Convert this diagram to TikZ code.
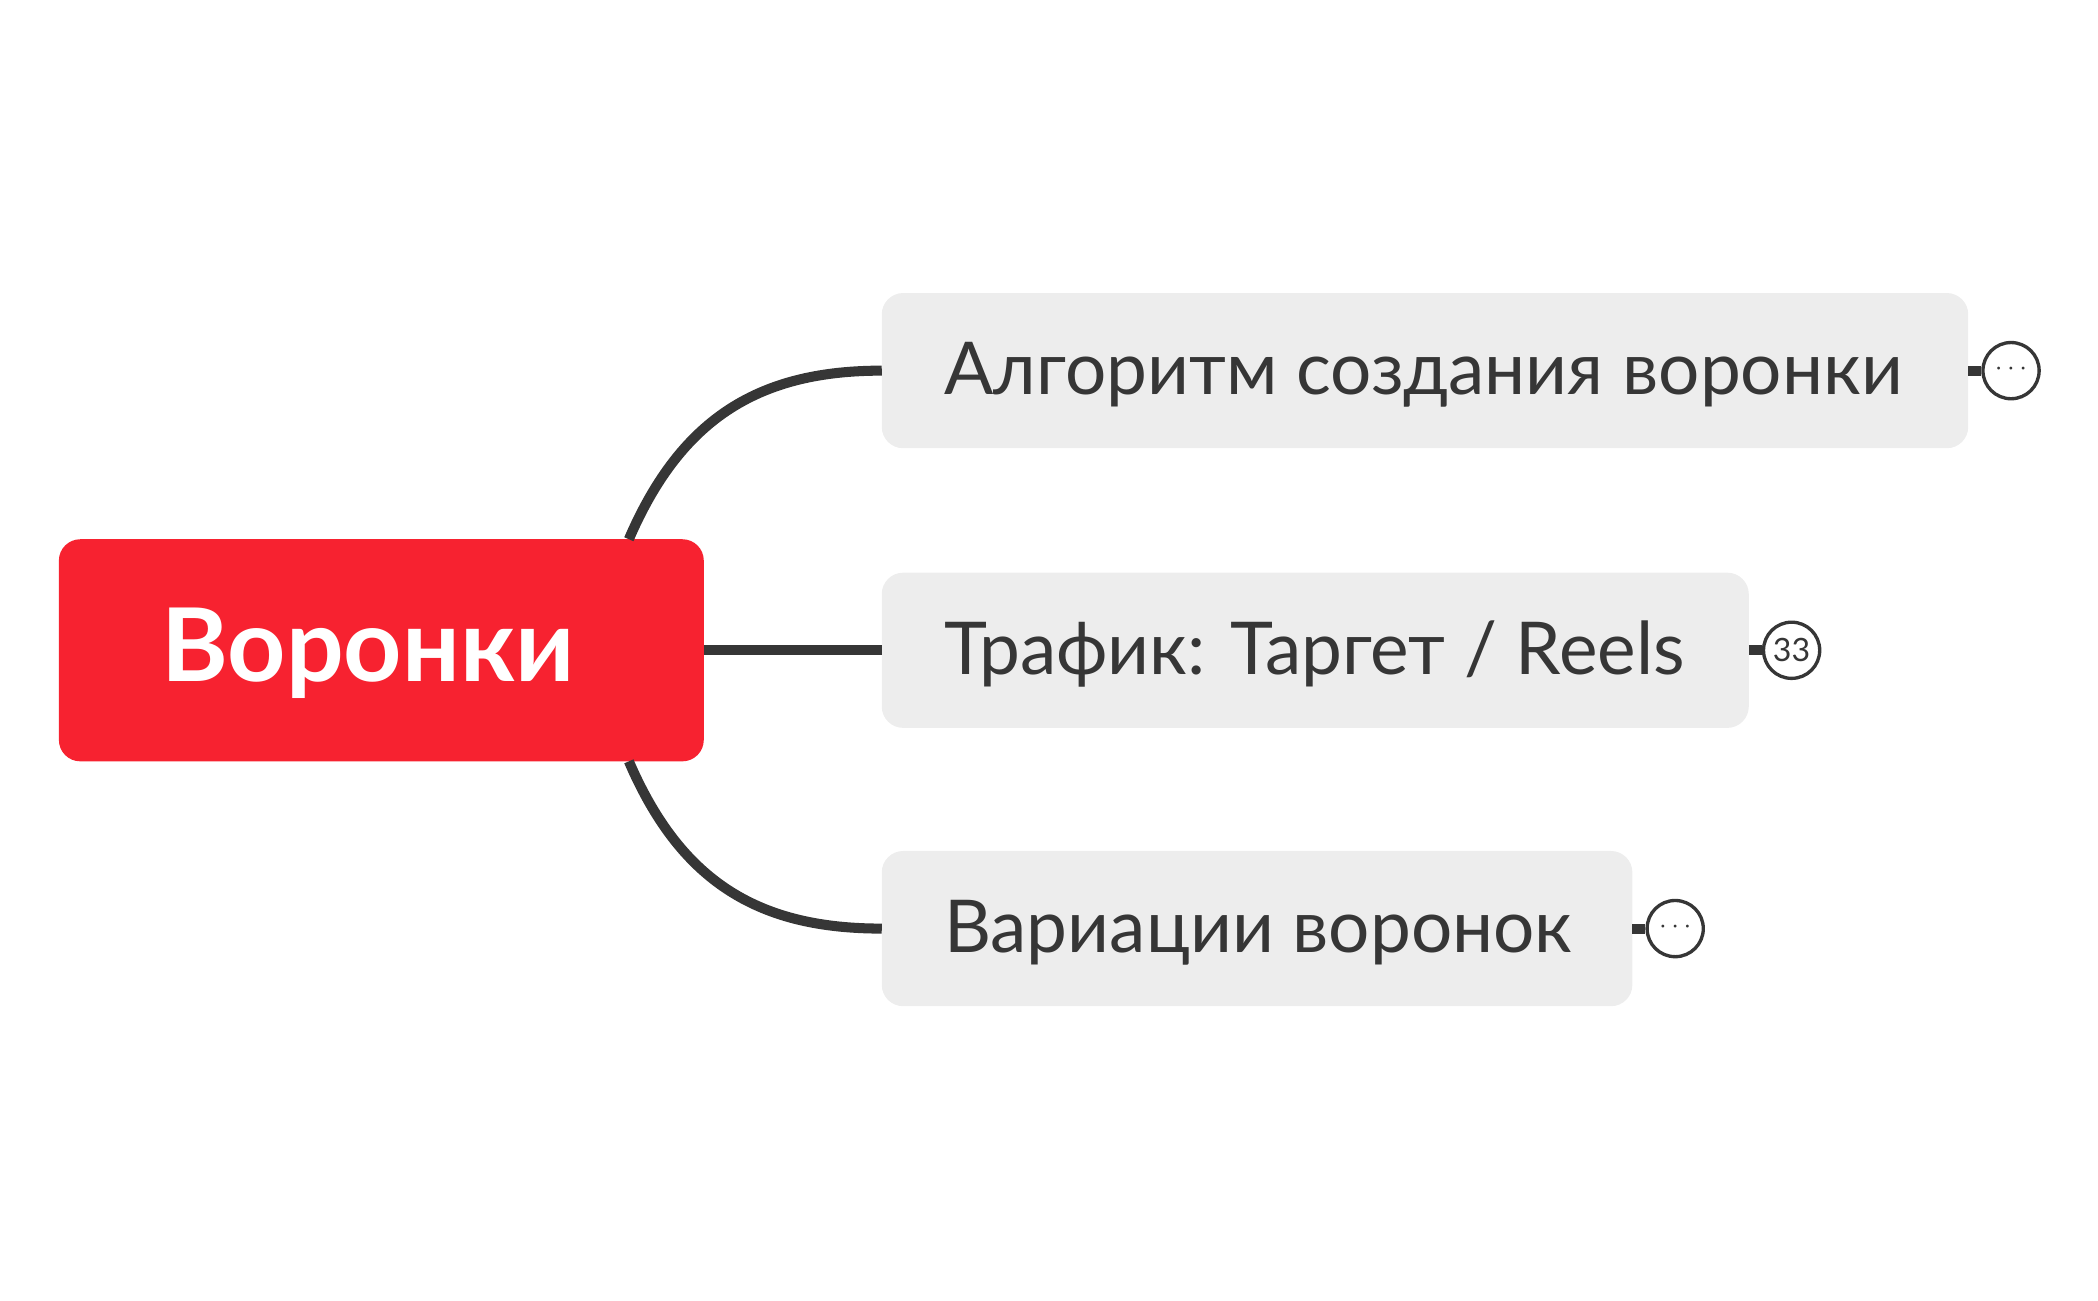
\documentclass[tikz,border=0pt]{standalone}
\usepackage{fontspec}
\setmainfont{Lato}
\definecolor{lnc}{HTML}{363636}
\definecolor{boxc}{HTML}{EDEDED}
\definecolor{redc}{HTML}{F72230}
\tikzset{
 sub/.style={fill=boxc,rounded corners=16pt},
 subtext/.style={text=lnc,font=\fontsize{54.5}{64}\selectfont,anchor=west},
 conn/.style={draw=lnc,line width=7.5pt},
 knob/.style={circle,draw=lnc,line width=2.5pt,fill=white,minimum size=42pt,inner sep=0pt,text=lnc},
}
\begin{document}
\begin{tikzpicture}[x=1pt,y=-1pt]
\useasboundingbox (0,0) rectangle (1568,972);
\fill[redc,rounded corners=16pt] (44,403) rectangle (526,569);
\node[text=white,font=\bfseries\fontsize{76}{90}\selectfont] (root) at (275,488) {Воронки};
\coordinate (rt) at (470,403);
\coordinate (rb) at (470,569);
\coordinate (rr) at (526,486);
\fill[sub] (659,219) rectangle (1471,335);
\node[subtext] (a) at (702,280) {Алгоритм создания воронки};
\fill[sub] (659,428) rectangle (1307,544);
\node[subtext] (b) at (702,489) {Трафик: Таргет / Reels};
\fill[sub] (659,636) rectangle (1220,752);
\node[subtext] (c) at (702,697) {Вариации воронок};
\coordinate (al) at (659,277);
\coordinate (bl) at (659,486);
\coordinate (cl) at (659,694);
\draw[conn] (rt) .. controls (510,310) and (570,277) .. (al);
\draw[conn] (rr) -- (bl);
\draw[conn] (rb) .. controls (510,662) and (570,694) .. (cl);
\node[knob] (k1) at (1503,277) {\raisebox{2pt}{\fontsize{20}{20}\selectfont$\cdots$}};
\node[knob] (k2) at (1339,486) {\fontsize{24}{24}\selectfont 33};
\node[knob] (k3) at (1252,694) {\raisebox{2pt}{\fontsize{20}{20}\selectfont$\cdots$}};
\draw[conn] (1471,277) -- (k1);
\draw[conn] (1307,486) -- (k2);
\draw[conn] (1220,694) -- (k3);
\end{tikzpicture}
\end{document}
